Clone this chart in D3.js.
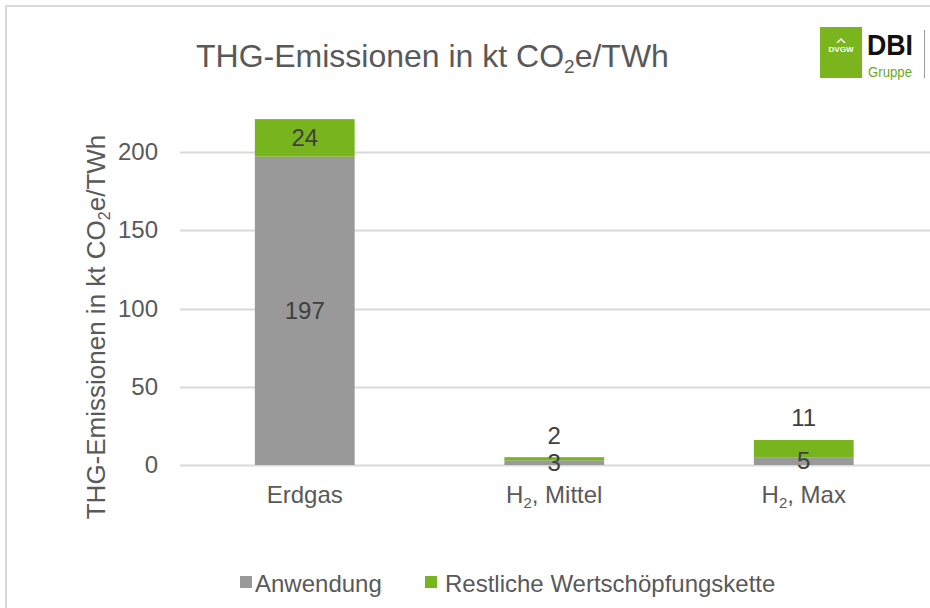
<!DOCTYPE html>
<html>
<head>
<meta charset="utf-8">
<script src="https://cdn.jsdelivr.net/npm/d3@7/dist/d3.min.js"></script>
<style>
  body { margin: 0; background: #fff; }
  text { font-family: "Liberation Sans", Arial, sans-serif; }
</style>
</head>
<body>
<script>
// data
var categories = ["Erdgas", "H2, Mittel", "H2, Max"];
var anwendung = [197, 3, 5];
var restliche = [24, 2, 11];
var seriesNames = ["Anwendung", "Restliche Wertschöpfungskette"];
var yTicks = [0, 50, 100, 150, 200];

var width = 930, height = 608;
var grey = "#999999", green = "#78b41e";
var textCol = "#595959";

var svg = d3.select("body").append("svg")
    .attr("width", width)
    .attr("height", height);

// frame (only top and left edge visible in the picture)
svg.append("path")
    .attr("d", "M6,608 V6 H930")
    .attr("fill", "none")
    .attr("stroke", "#d9d9d9")
    .attr("stroke-width", 2);

// title with subscript
var title = svg.append("text")
    .attr("x", 196).attr("y", 67)
    .attr("font-size", 32)
    .attr("fill", textCol);
title.append("tspan").text("THG-Emissionen in kt CO");
title.append("tspan").attr("font-size", 19).attr("dy", 6).text("2");
title.append("tspan").attr("dy", -6).text("e/TWh");

// scales
var x = d3.scaleBand()
    .domain(categories)
    .range([180, 928.5]);
var y = d3.scaleLinear()
    .domain([0, 200])
    .range([465, 152]);
var barW = x.bandwidth() * 0.4;

// gridlines
svg.append("g").selectAll("line")
    .data(yTicks)
    .enter().append("line")
    .attr("x1", 180).attr("x2", 930)
    .attr("y1", function(d) { return Math.round(y(d)) + 0.5; })
    .attr("y2", function(d) { return Math.round(y(d)) + 0.5; })
    .attr("stroke", "#d9d9d9")
    .attr("stroke-width", 2);

// y axis labels
var yAxis = d3.axisLeft(y).tickValues(yTicks).tickSize(0).tickPadding(0);
var yG = svg.append("g")
    .attr("transform", "translate(158,0)")
    .call(yAxis);
yG.select(".domain").remove();
yG.selectAll("text")
    .attr("font-size", 24)
    .attr("fill", textCol)
    .attr("font-family", "Liberation Sans, Arial, sans-serif");

// y axis title
var yt = svg.append("text")
    .attr("transform", "translate(105,327) rotate(-90)")
    .attr("text-anchor", "middle")
    .attr("font-size", 26)
    .attr("fill", textCol);
yt.append("tspan").text("THG-Emissionen in kt CO");
yt.append("tspan").attr("font-size", 16).attr("dy", 5).text("2");
yt.append("tspan").attr("dy", -5).text("e/TWh");

// stacked bars
var rows = categories.map(function(c, i) {
    return { cat: c, a: anwendung[i], r: restliche[i] };
});

var bars = svg.append("g");
bars.selectAll("rect.a")
    .data(rows).enter().append("rect")
    .attr("class", "a")
    .attr("x", function(d) { return x(d.cat) + (x.bandwidth() - barW) / 2; })
    .attr("width", barW)
    .attr("y", function(d) { return y(d.a); })
    .attr("height", function(d) { return y(0) - y(d.a); })
    .attr("fill", grey);
bars.selectAll("rect.r")
    .data(rows).enter().append("rect")
    .attr("class", "r")
    .attr("x", function(d) { return x(d.cat) + (x.bandwidth() - barW) / 2; })
    .attr("width", barW)
    .attr("y", function(d) { return y(d.a + d.r); })
    .attr("height", function(d) { return y(d.a) - y(d.a + d.r); })
    .attr("fill", green);

// data labels
var labels = svg.append("g")
    .attr("font-size", 24)
    .attr("fill", "#404040")
    .attr("text-anchor", "middle");
labels.selectAll("text.a")
    .data(rows).enter().append("text")
    .attr("x", function(d) { return x(d.cat) + x.bandwidth() / 2; })
    .attr("y", function(d) { return (y(0) + y(d.a)) / 2; })
    .attr("dy", "0.35em")
    .text(function(d) { return d.a; });
labels.selectAll("text.r")
    .data(rows).enter().append("text")
    .attr("x", function(d) { return x(d.cat) + x.bandwidth() / 2; })
    .attr("y", function(d) {
        var top = y(d.a + d.r), mid = (y(d.a) + top) / 2;
        // small segments: label sits above the bar
        return (y(d.a) - top) < 25 ? top - 22 : mid;
    })
    .attr("dy", "0.35em")
    .text(function(d) { return d.r; });

// category labels (with subscript 2)
var cats = svg.append("g")
    .attr("font-size", 24)
    .attr("fill", textCol)
    .attr("text-anchor", "middle");
cats.selectAll("text")
    .data(categories).enter().append("text")
    .attr("x", function(d) { return x(d) + x.bandwidth() / 2; })
    .attr("y", 503)
    .each(function(d) {
        var t = d3.select(this);
        if (d.indexOf("H2") === 0) {
            t.append("tspan").text("H");
            t.append("tspan").attr("font-size", 15).attr("dy", 5).text("2");
            t.append("tspan").attr("dy", -5).text(d.slice(2));
        } else {
            t.text(d);
        }
    });

// legend
var legX = [240, 425], legTextX = [255, 445];
var leg = svg.append("g").selectAll("g")
    .data(seriesNames).enter().append("g");
leg.append("rect")
    .attr("x", function(d, i) { return legX[i]; })
    .attr("y", 576)
    .attr("width", 12).attr("height", 12)
    .attr("fill", function(d, i) { return i === 0 ? grey : green; });
leg.append("text")
    .attr("x", function(d, i) { return legTextX[i]; })
    .attr("y", 592)
    .attr("font-size", 24)
    .attr("fill", textCol)
    .text(function(d) { return d; });

// logo
var logo = svg.append("g");
logo.append("rect")
    .attr("x", 820).attr("y", 27).attr("width", 42).attr("height", 51)
    .attr("fill", "#7ab51d");
logo.append("path")
    .attr("d", "M836,43 l5,-5 l5,5 l-2,0 l-3,-3 l-3,3 z")
    .attr("fill", "#fff");
logo.append("text")
    .attr("x", 841).attr("y", 52)
    .attr("text-anchor", "middle")
    .attr("font-size", 8).attr("font-weight", "bold")
    .attr("fill", "#fff")
    .text("DVGW");
logo.append("text")
    .attr("x", 867).attr("y", 55)
    .attr("font-size", 30).attr("font-weight", "bold")
    .attr("font-family", "Liberation Sans Narrow, Liberation Sans, Arial, sans-serif")
    .attr("textLength", 46)
    .attr("lengthAdjust", "spacingAndGlyphs")
    .attr("fill", "#111")
    .text("DBI");
logo.append("text")
    .attr("x", 868).attr("y", 77)
    .attr("font-size", 14)
    .attr("font-family", "Liberation Sans Narrow, Liberation Sans, Arial, sans-serif")
    .attr("textLength", 44)
    .attr("lengthAdjust", "spacingAndGlyphs")
    .attr("fill", "#6ea81e")
    .text("Gruppe");
logo.append("line")
    .attr("x1", 924.5).attr("x2", 924.5).attr("y1", 30).attr("y2", 78)
    .attr("stroke", "#999").attr("stroke-width", 1);
</script>
</body>
</html>
